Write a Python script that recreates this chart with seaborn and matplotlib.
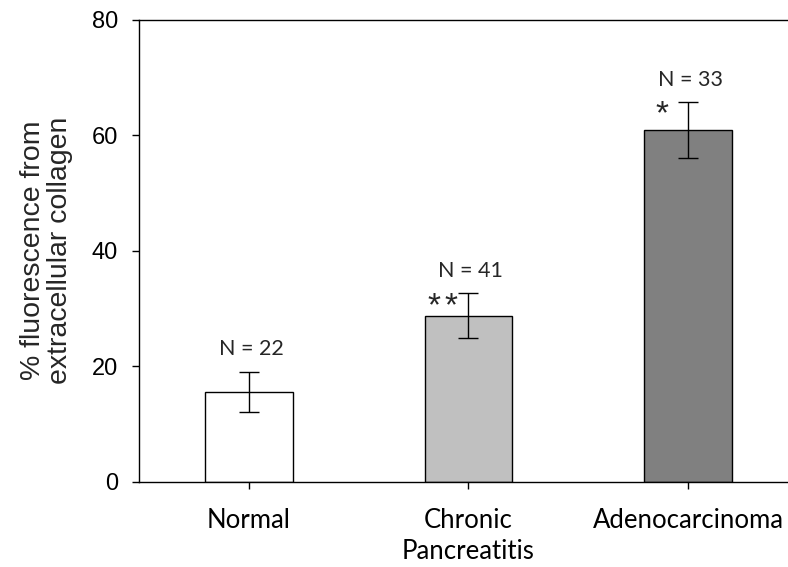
import matplotlib
matplotlib.use("Agg")
import matplotlib.pyplot as plt
import seaborn as sns
import pandas as pd
import numpy as np

categories = ["Normal", "Chronic\nPancreatitis", "Adenocarcinoma"]
means = [15.5, 28.75, 60.9]
errors = [3.5, 3.85, 4.85]
n_labels = ["N = 22", "N = 41", "N = 33"]
stars = ["", "**", "*"]
colors = ["#FFFFFF", "#C0C0C0", "#808080"]
yticks = [0, 20, 40, 60, 80]

sns.set_theme(style="ticks")
plt.rcParams["font.family"] = ["Liberation Sans", "DejaVu Sans"]

df = pd.DataFrame({"cat": categories, "val": means})

fig = plt.figure(figsize=(7.88, 5.67), dpi=100)
ax = fig.add_axes([139 / 788, 1 - 481.5 / 567, 1 - 139 / 788, (481.5 - 20) / 567])

sns.barplot(data=df, x="cat", y="val", hue="cat", palette=colors, legend=False,
            width=0.4, edgecolor="black", linewidth=1.0, ax=ax, errorbar=None)
xs = np.arange(len(categories))
ax.errorbar(xs, means, yerr=errors, fmt="none", ecolor="black", elinewidth=1.0,
            capsize=7, capthick=1.0)

for x, m, e, n, s in zip(xs, means, errors, n_labels, stars):
    ax.text(x + 0.01, m + e + 3.9, n, ha="center", va="center",
            fontsize=15.5, family=["Lato", "DejaVu Sans"])
    k = len(s)
    for i, ch in enumerate(s):
        off = (i - (k - 1) / 2) * 12.0
        ax.annotate(ch, xy=(x - 0.118, m + e - 3.7), xytext=(off, 0),
                    textcoords="offset points", ha="center", va="baseline",
                    fontsize=24, family=["Liberation Sans", "DejaVu Sans"])

ax.set_xlim(-0.5, 2.455)
ax.set_ylim(0, 80)
ax.set_yticks(yticks)
ax.set_yticklabels([str(t) for t in yticks], fontsize=17)
ax.set_xticks(xs)
ax.set_xticklabels(categories, fontsize=18.5, family=["Lato", "DejaVu Sans"],
                   linespacing=1.3)
ax.set_xlabel("")
ax.set_ylabel("% fluorescence from\nextracellular collagen", fontsize=20.5,
              linespacing=1.05, labelpad=13.5)
ax.tick_params(axis="both", direction="out", length=5, width=1.0, color="black",
               labelcolor="black")
ax.tick_params(axis="y", pad=10)
ax.tick_params(axis="x", pad=14)
for side in ["left", "bottom", "top"]:
    ax.spines[side].set_visible(True)
    ax.spines[side].set_color("black")
    ax.spines[side].set_linewidth(1.0)
ax.spines["right"].set_visible(False)

fig.savefig("out.png", dpi=100)
